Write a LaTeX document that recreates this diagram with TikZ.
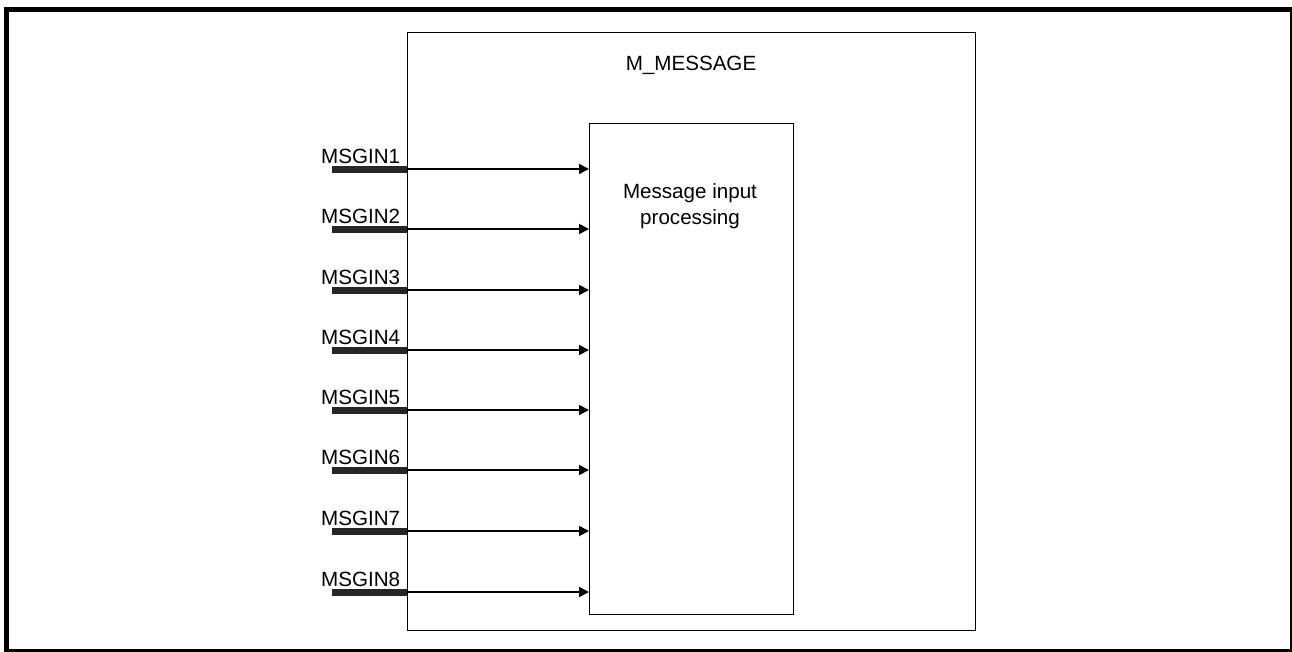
\documentclass[tikz,border=0pt]{standalone}
\usepackage{fontspec}
\setmainfont{Liberation Sans}
\usetikzlibrary{arrows.meta}
\begin{document}
\begin{tikzpicture}[x=1pt,y=-1pt,
  lbl/.style={font=\fontsize{20.6}{26}\selectfont, inner sep=0pt},
  block/.style={draw, line width=1.2pt, inner sep=0pt},
  busbar/.style={line width=7pt, color=black!85},
  sig/.style={line width=1.8pt, -{Triangle[length=10pt,width=10pt]}}]
  \useasboundingbox (0,0) rectangle (1292,651);
  % page frame
  \draw[line width=5pt] (6,9.5) rectangle (1292.5,651.5);
  % module and processing blocks
  \node[block, minimum width=568pt, minimum height=598pt, anchor=north west] (mmsg) at (407,32) {};
  \node[block, minimum width=204pt, minimum height=491pt, anchor=north west] (proc) at (589,123) {};
  \node[lbl, anchor=base] (title) at (691,70) {M\_MESSAGE};
  \node[lbl, anchor=north, align=center] (ptext) at (690,183) {Message input\\processing};
  % inputs
  \foreach \k/\y in {1/169,2/229,3/290,4/350,5/410,6/470,7/531,8/592}{
    \coordinate (in\k) at (332,\y);
    \coordinate (port\k) at (mmsg.west |- in\k);
    \draw[busbar] (in\k) -- (port\k);
    \draw[sig] (port\k) -- (proc.west |- in\k);
    \node[lbl, anchor=base west] (name\k) at (321,\y-6) {MSGIN\k};
  }
\end{tikzpicture}
\end{document}
